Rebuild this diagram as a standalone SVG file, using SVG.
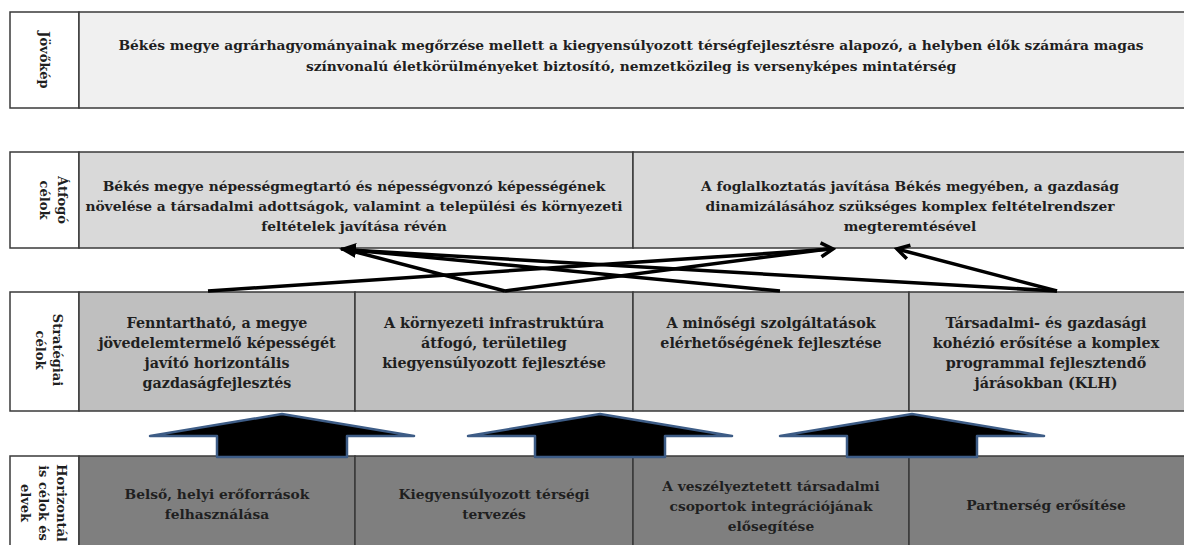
<svg xmlns="http://www.w3.org/2000/svg" width="1184" height="545" viewBox="0 0 1184 545">
<defs>
<style>
.cell{stroke:#3a3a3a;stroke-width:1.5}
.lbl{fill:#ffffff}
.r1{fill:#f0f0f0}
.r2{fill:#d9d9d9}
.r3{fill:#bfbfbf}
.r4{fill:#7f7f7f}
text{font-family:"DejaVu Serif","Liberation Serif",serif;font-weight:bold;font-size:13.8px;fill:#1f1f1f;text-anchor:middle}
.t3{font-size:14.3px}
.side{font-size:13px}
.con{stroke:#000;stroke-width:3.5;fill:none;stroke-linecap:butt}
.blk{fill:#000;stroke:#3d5c86;stroke-width:2.5;stroke-linejoin:round}
</style>
<marker id="mFill" markerUnits="userSpaceOnUse" viewBox="0 0 17 15" markerWidth="17" markerHeight="15" refX="15" refY="7.5" orient="auto">
<path d="M0,0 L17,7.5 L0,15 Z" fill="#000"/>
</marker>
<marker id="mOpen" markerUnits="userSpaceOnUse" viewBox="0 0 18 18" markerWidth="18" markerHeight="18" refX="15" refY="9" orient="auto">
<path d="M3,2 L15,9 L3,16" fill="none" stroke="#000" stroke-width="3.5" stroke-linejoin="miter"/>
</marker>
</defs>

<!-- Row 1 -->
<g id="lbl-jovokep">
<rect class="cell lbl" x="10" y="12" width="69" height="96"/>
<text class="side" transform="translate(40,60) rotate(90)">Jövőkép</text>
</g>
<g id="jovokep">
<rect class="cell r1" x="79" y="12" width="1115" height="96"/>
<text x="631" y="50">Békés megye agrárhagyományainak megőrzése mellett a kiegyensúlyozott térségfejlesztésre alapozó, a helyben élők számára magas</text>
<text x="631" y="71">színvonalú életkörülményeket biztosító, nemzetközileg is versenyképes mintatérség</text>
</g>

<!-- Row 2 -->
<g id="lbl-atfogo">
<rect class="cell lbl" x="10" y="152" width="69" height="96"/>
<text class="side" transform="translate(58,200) rotate(90)"><tspan x="0" y="0">Átfogó</tspan><tspan x="0" y="18">célok</tspan></text>
</g>
<g id="atfogo-1">
<rect class="cell r2" x="79" y="152" width="554" height="96"/>
<text x="354" y="191">Békés megye népességmegtartó és népességvonzó képességének</text>
<text x="354" y="211">növelése a társadalmi adottságok, valamint a települési és környezeti</text>
<text x="354" y="231">feltételek javítása révén</text>
</g>
<g id="atfogo-2">
<rect class="cell r2" x="633" y="152" width="561" height="96"/>
<text x="910" y="191">A foglalkoztatás javítása Békés megyében, a gazdaság</text>
<text x="910" y="211">dinamizálásához szükséges komplex feltételrendszer</text>
<text x="910" y="231">megteremtésével</text>
</g>

<!-- Row 3 -->
<g id="lbl-strategiai">
<rect class="cell lbl" x="10" y="292" width="69" height="119"/>
<text class="side" transform="translate(53,350) rotate(90)"><tspan x="0" y="0">Stratégiai</tspan><tspan x="0" y="17">célok</tspan></text>
</g>
<g id="strat-1">
<rect class="cell r3" x="79" y="292" width="276" height="119"/>
<text class="t3" x="217" y="328">Fenntartható, a megye</text>
<text class="t3" x="217" y="348">jövedelemtermelő képességét</text>
<text class="t3" x="217" y="368">javító horizontális</text>
<text class="t3" x="217" y="388">gazdaságfejlesztés</text>
</g>
<g id="strat-2">
<rect class="cell r3" x="355" y="292" width="278" height="119"/>
<text class="t3" x="494" y="328">A környezeti infrastruktúra</text>
<text class="t3" x="494" y="348">átfogó, területileg</text>
<text class="t3" x="494" y="368">kiegyensúlyozott fejlesztése</text>
</g>
<g id="strat-3">
<rect class="cell r3" x="633" y="292" width="276" height="119"/>
<text class="t3" x="771" y="328">A minőségi szolgáltatások</text>
<text class="t3" x="771" y="348">elérhetőségének fejlesztése</text>
</g>
<g id="strat-4">
<rect class="cell r3" x="909" y="292" width="285" height="119"/>
<text class="t3" x="1046" y="328">Társadalmi- és gazdasági</text>
<text class="t3" x="1046" y="348">kohézió erősítése a komplex</text>
<text class="t3" x="1046" y="368">programmal fejlesztendő</text>
<text class="t3" x="1046" y="388">járásokban (KLH)</text>
</g>

<!-- Row 4 -->
<g id="lbl-horizontalis">
<rect class="cell lbl" x="10" y="456" width="69" height="100"/>
<text class="side" transform="translate(57,503) rotate(90)"><tspan x="0" y="0">Horizontál</tspan><tspan x="0" y="18">is célok és</tspan><tspan x="0" y="36">elvek</tspan></text>
</g>
<g id="hor-1">
<rect class="cell r4" x="79" y="456" width="276" height="100"/>
<text x="217" y="499">Belső, helyi erőforrások</text>
<text x="217" y="519">felhasználása</text>
</g>
<g id="hor-2">
<rect class="cell r4" x="355" y="456" width="278" height="100"/>
<text x="494" y="499">Kiegyensúlyozott térségi</text>
<text x="494" y="519">tervezés</text>
</g>
<g id="hor-3">
<rect class="cell r4" x="633" y="456" width="276" height="100"/>
<text x="771" y="491">A veszélyeztetett társadalmi</text>
<text x="771" y="511">csoportok integrációjának</text>
<text x="771" y="531">elősegítése</text>
</g>
<g id="hor-4">
<rect class="cell r4" x="909" y="456" width="285" height="100"/>
<text x="1046" y="510">Partnerség erősítése</text>
</g>

<!-- Block arrows -->
<g id="block-arrows">
<path class="blk" d="M282,414 L414,436 L347,436 L347,457 L217,457 L217,436 L150,436 Z"/>
<path class="blk" d="M600,414 L732,436 L665,436 L665,457 L535,457 L535,436 L468,436 Z"/>
<path class="blk" d="M912,414 L1044,436 L977,436 L977,457 L847,457 L847,436 L780,436 Z"/>
</g>

<!-- Connectors -->
<g id="connectors">
<line class="con" x1="208" y1="291" x2="833" y2="249" marker-end="url(#mOpen)"/>
<line class="con" x1="505" y1="291" x2="828" y2="249"/>
<line class="con" x1="505" y1="291" x2="348" y2="250"/>
<line class="con" x1="780" y1="291" x2="341" y2="249" marker-end="url(#mFill)"/>
<line class="con" x1="1057" y1="291" x2="350" y2="250"/>
<line class="con" x1="1057" y1="291" x2="897" y2="249" marker-end="url(#mOpen)"/>
</g>
</svg>
